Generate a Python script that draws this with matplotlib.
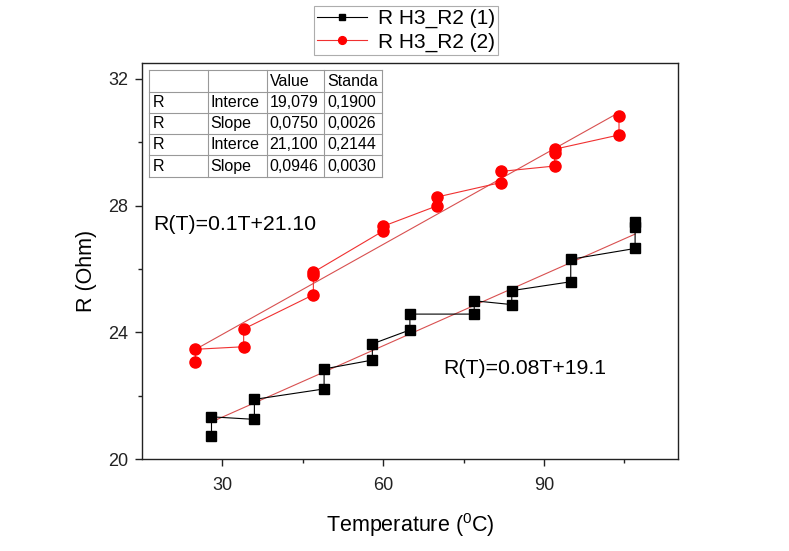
import matplotlib
matplotlib.use('Agg')
import matplotlib.pyplot as plt
import numpy as np

plt.rcParams['font.family'] = ['Liberation Sans', 'DejaVu Sans']
plt.rcParams['mathtext.default'] = 'regular'

# series 1 (black squares): two readings per temperature, lower then upper
t1 = [28, 28, 36, 36, 49, 49, 58, 58, 65, 65, 77, 77, 84, 84, 95, 95, 107, 107, 107]
r1 = [20.74, 21.34, 21.26, 21.89, 22.22, 22.85, 23.13, 23.64, 24.08, 24.58,
      24.58, 25.00, 24.88, 25.32, 25.60, 26.31, 26.65, 27.32, 27.50]

# series 2 (red circles)
t2 = [25, 25, 34, 34, 47, 47, 47, 60, 60, 70, 70, 82, 82, 92, 92, 92, 104, 104]
r2 = [23.06, 23.47, 23.55, 24.11, 25.19, 25.80, 25.90, 27.20, 27.35, 27.99,
      28.27, 28.73, 29.08, 29.25, 29.66, 29.78, 30.23, 30.84]

# linear fit parameters (from the table)
fit1 = (19.079, 0.0750)
fit2 = (21.100, 0.0946)

table_rows = [
    ['', '', 'Value', 'Standa'],
    ['R', 'Interce', '19,079', '0,1900'],
    ['R', 'Slope', '0,0750', '0,0026'],
    ['R', 'Interce', '21,100', '0,2144'],
    ['R', 'Slope', '0,0946', '0,0030'],
]

W, H = 789.0, 551.0
fig = plt.figure(figsize=(7.89, 5.51), dpi=100)
ax = fig.add_axes([0.1797, 0.1664, 0.6796, 0.7193])

l1, = ax.plot(t1, r1, color='black', lw=0.8, marker='s', ms=7, mfc='black',
              mec='black', zorder=3)
l2, = ax.plot(t2, r2, color='#f03030', lw=0.8, marker='o', ms=8, mfc='#ff0000',
              mec='#ff0000', zorder=3)

for (b, k), tt in ((fit1, t1), (fit2, t2)):
    xs = np.array([min(tt), max(tt)])
    ax.plot(xs, b + k * xs, color='#d85050', lw=0.8, zorder=2)

ax.set_xlim(15, 115)
ax.set_ylim(20, 32.5)
ax.set_xticks([30, 60, 90])
ax.set_xticks([45, 75, 105], minor=True)
ax.set_yticks([20, 24, 28, 32])
ax.set_yticks([22, 26, 30], minor=True)
ax.tick_params(which='major', direction='out', length=5, width=1,
               labelsize=13, top=False, right=False, colors='#222222')
ax.tick_params(axis='x', which='major', pad=8)
ax.tick_params(axis='y', which='major', pad=5)
ax.tick_params(which='minor', direction='out', length=3, width=1,
               top=False, right=False, colors='#222222')
for s in ax.spines.values():
    s.set_linewidth(1.0)
    s.set_color('#222222')

ax.set_xlabel('Temperature ($^{0}$C)', fontsize=15.5)
ax.set_ylabel('R (Ohm)', fontsize=15.5)
ax.xaxis.set_label_coords(0.5, -0.13)
ax.yaxis.set_label_coords(-0.083, 0.475)

fig.text(153 / W, 1 - 225 / H, 'R(T)=0.1T+21.10', fontsize=15.3,
         va='center', ha='left')
fig.text(443 / W, 1 - 368 / H, 'R(T)=0.08T+19.1', fontsize=15.3,
         va='center', ha='left')

# parameter table
col_edges = [149.3, 207.7, 266.7, 324.3, 381.7]
row_edges = [70, 92.3, 113.3, 134, 155, 177.3]
for x in col_edges:
    fig.add_artist(plt.Line2D([x / W, x / W],
                              [1 - row_edges[0] / H, 1 - row_edges[-1] / H],
                              color='#999999', lw=0.8))
for y in row_edges:
    fig.add_artist(plt.Line2D([col_edges[0] / W, col_edges[-1] / W],
                              [1 - y / H, 1 - y / H],
                              color='#999999', lw=0.8))
for i, row in enumerate(table_rows):
    yc = (row_edges[i] + row_edges[i + 1]) / 2
    for j, cell in enumerate(row):
        fig.text((col_edges[j] + 3) / W, 1 - yc / H, cell, fontsize=11.5,
                 va='center', ha='left')

leg = fig.legend([l1, l2], ['R H3_R2 (1)', 'R H3_R2 (2)'],
                 loc='upper left', bbox_to_anchor=(314 / W, 1 - 6 / H),
                 fontsize=15, frameon=True, fancybox=False, edgecolor='#999999',
                 handlelength=2.4, borderpad=0.15, labelspacing=0.2,
                 handletextpad=0.5, borderaxespad=0, markerscale=0.7)
leg.get_frame().set_linewidth(0.8)

fig.savefig('out.png', dpi=100)
